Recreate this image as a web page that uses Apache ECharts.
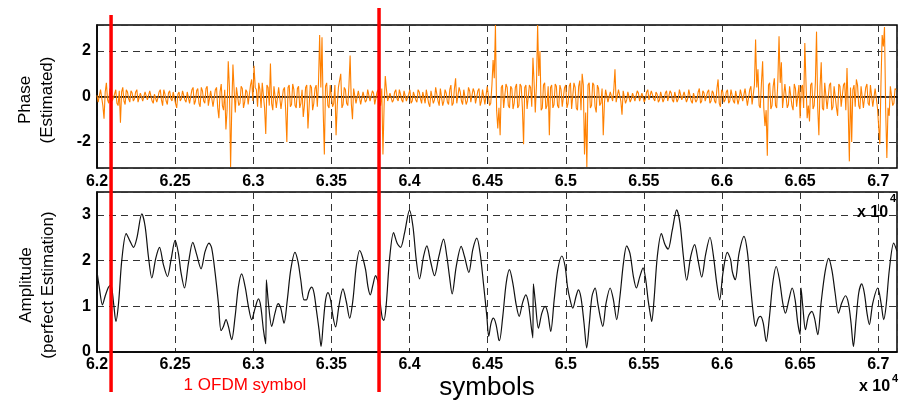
<!DOCTYPE html>
<html><head><meta charset="utf-8">
<script src="https://cdn.jsdelivr.net/npm/echarts@6/dist/echarts.min.js"></script>
<style>html,body{margin:0;padding:0;background:#fff}#c{width:904px;height:403px}</style>
</head><body><div id="c"></div>
<script>
// ---------------- DATA ----------------
const xMin = 62000, xMax = 67120, xInterval = 500;
const redLineX = [62090, 63805];

// Phase (estimated), sampled every phaseStep symbols starting at phaseStart
const phaseStart = 62000, phaseStep = 15;
const phaseVals = [
 0.05,-0.2,0.35,-0.98,0.6,-0.3,0.25,-0.15,0.3,-0.4,-1.15,0.4,-0.35,0.2,-0.25,0.15,-0.1,0.3,-0.2,0.1,
 -0.15,0.25,-0.1,0.2,-0.3,0.15,-0.05,0.3,-0.4,0.1,-0.35,0.25,-0.2,0.15,-0.5,0.2,-0.1,0.3,-0.25,0.15,
 -0.3,0.4,-0.2,0.35,-0.45,0.25,-0.3,0.45,-0.35,0.3,-0.5,0.4,-0.95,0.55,-0.6,-1.45,1.55,-3.1,1.4,-0.7,
 0.45,-0.3,0.35,-0.25,0.2,-0.4,0.75,1.35,0.3,0.6,-0.5,0.55,-1.65,0.4,1.45,-0.6,0.5,-0.45,0.35,-0.5,
 0.4,-2.0,0.5,-0.35,0.3,-0.5,0.45,-0.3,-0.9,0.4,-1.4,0.5,-0.6,0.35,-0.45,2.7,2.6,-2.55,0.6,-0.5,
 0.45,-0.3,-1.7,0.4,1.0,-0.35,0.3,-0.4,1.8,-1.0,0.3,-0.25,0.2,-0.3,0.25,-0.15,0.35,-0.2,0.15,-0.3,
 0.3,-0.4,-2.55,0.9,-0.2,0.15,-0.25,0.2,-0.1,0.3,-0.15,0.25,-0.2,0.1,-0.3,0.2,-0.15,0.3,-0.1,0.2,
 -0.3,0.25,-0.45,0.2,-0.15,0.35,-0.4,0.3,-0.2,0.15,-0.35,0.5,-0.3,0.8,-0.25,0.2,-0.35,0.3,-0.2,0.25,
 -0.3,0.2,-0.25,0.35,-0.2,0.3,-0.4,0.5,-0.3,1.6,3.14,-1.4,-1.7,0.5,-0.45,0.4,-0.5,0.35,-0.3,0.55,
 -0.4,0.45,-2.1,0.5,-0.6,0.4,1.7,-0.7,3.14,2.0,-0.5,0.6,-0.4,-1.7,0.5,-0.35,0.45,-0.5,0.3,-0.4,
 0.5,-0.3,0.6,-0.5,0.4,-0.6,0.7,1.0,-2.55,-3.1,0.6,-0.4,0.5,-0.7,0.35,-0.3,-1.7,0.3,-0.25,0.2,
 -0.2,1.2,-0.3,0.25,-0.8,0.2,-0.15,0.25,-0.1,0.2,-0.2,0.15,-0.25,0.2,-0.1,0.3,-0.15,0.2,-0.2,0.1,
 -0.15,0.2,-0.1,0.25,-0.2,0.15,-0.25,0.2,-0.1,0.3,-0.2,0.15,-0.1,0.25,-0.3,0.2,-0.15,0.35,-0.2,0.15,
 -0.25,0.3,-0.2,0.15,-0.3,0.75,-0.45,0.2,-0.15,0.3,-0.2,0.25,-0.3,0.2,-0.1,0.35,-0.25,0.3,-0.35,0.45,
 -0.4,2.5,1.2,-0.5,1.55,-1.3,-2.6,0.6,-0.4,0.8,-0.5,2.65,1.5,-0.45,0.5,-0.35,0.4,-0.6,0.35,-0.5,
 -0.95,0.5,2.35,-0.95,-1.1,0.6,-0.4,2.85,-1.7,1.5,-0.6,0.55,-0.5,0.6,-0.45,0.5,-0.85,0.45,-0.5,0.6,
 1.25,-2.85,-2.0,0.5,0.75,-0.4,0.45,-0.5,0.4,-0.3,0.5,-0.45,0.35,-0.5,-2.1,2.7,3.05,-2.7,-0.85,0.4,-0.3,0.3
];
// Phase values at the half-step positions (phaseStart + i*phaseStep + phaseStep/2)
const phaseMidVals = [
 -0.25,0.3,-0.4,0.2,-0.15,0.35,-0.2,0.1,-0.3,0.25,0.2,-0.2,0.3,-0.1,0.25,-0.2,0.2,-0.25,0.15,-0.2,
 0.2,-0.15,0.25,-0.2,0.1,-0.25,0.2,-0.15,0.3,-0.2,0.15,-0.1,0.2,-0.3,0.1,-0.2,0.25,-0.15,0.2,-0.3,
 0.3,-0.35,0.25,-0.3,0.4,-0.2,0.35,-0.4,0.25,-0.45,0.3,-0.5,0.2,-0.4,0.3,-0.6,0.4,-0.5,0.3,0.4,
 -0.4,0.45,-0.5,0.3,-0.35,0.5,-0.2,0.4,-0.45,0.3,0.6,-0.5,0.5,-0.4,-0.3,0.45,-0.5,0.4,-0.55,0.3,
 -0.6,0.4,-0.45,0.55,-0.4,0.35,-0.5,0.3,-0.4,0.5,-0.45,0.4,-0.3,0.5,0.6,0.4,-0.6,0.45,-0.4,0.5,
 -0.45,0.5,-0.4,0.35,-0.5,0.4,-0.3,0.5,-0.3,0.35,-0.3,0.25,-0.35,0.2,-0.25,0.3,-0.2,0.25,-0.35,0.2,
 -0.3,0.35,-0.4,0.3,-0.25,0.2,-0.15,0.3,-0.2,0.1,-0.25,0.2,-0.15,0.3,-0.2,0.15,-0.25,0.2,-0.3,0.15,
 0.3,-0.3,0.25,-0.3,0.4,-0.2,0.35,-0.4,0.3,-0.25,0.3,-0.4,0.35,-0.3,0.4,-0.2,0.3,-0.35,0.4,-0.25,
 0.35,-0.3,0.25,-0.4,0.3,-0.35,0.45,-0.4,0.5,0.8,-0.6,-0.5,0.4,-0.5,0.55,-0.4,0.45,-0.55,0.4,-0.5,
 0.55,-0.5,0.4,-0.55,0.5,-0.45,0.6,0.5,0.9,-0.6,0.5,-0.55,0.45,0.4,-0.5,0.55,-0.4,0.5,-0.45,0.4,
 -0.5,0.45,-0.55,0.6,-0.5,0.45,-0.6,0.5,-0.7,0.5,-0.5,0.6,-0.45,0.5,-0.4,0.35,-0.3,0.25,-0.3,0.25,
 0.3,-0.25,0.3,-0.2,0.25,-0.3,0.2,-0.25,0.15,-0.2,0.25,-0.2,0.15,-0.25,0.2,-0.15,0.25,-0.1,0.2,-0.25,
 0.2,-0.25,0.15,-0.2,0.25,-0.15,0.2,-0.25,0.3,-0.15,0.2,-0.25,0.3,-0.2,0.15,-0.25,0.2,-0.3,0.25,-0.2,
 0.2,-0.3,0.25,-0.2,0.35,-0.3,0.3,-0.25,0.2,-0.3,0.3,-0.2,0.25,-0.35,0.3,-0.2,0.35,-0.4,0.3,-0.35,
 0.5,0.4,-0.4,0.6,-0.5,-0.6,0.5,-0.55,0.45,-0.4,0.7,0.6,-0.5,0.55,-0.5,0.45,-0.4,0.55,-0.45,0.5,
 0.4,-0.5,0.6,-0.4,0.5,-0.55,0.6,-0.5,0.45,-0.5,0.6,-0.55,0.5,-0.6,0.45,-0.5,0.55,-0.45,0.5,-0.6,
 -0.5,0.4,0.3,-0.45,0.5,-0.55,0.4,-0.45,0.55,-0.4,0.45,-0.5,0.4,-0.5,0.6,2.2,-0.6,-0.5,0.45,-0.4,0.35
];

// Amplitude (perfect estimation)
const ampX = [
 62000,62014,62035,62052,62074,62089,62106,62121,62138,62159,62187,62212,62234,62255,62287,62308,62329,62351,62376,62400,62425,62451,62474,62500,62521,62538,62560,62585,62613,62638,62666,62692,62717,62734,62756,62777,62794,62809,62826,62841,
 62862,62884,62905,62926,62948,62969,62990,63012,63033,63048,63065,63080,63084,63097,63118,63139,63159,63176,63197,63218,63240,63267,63286,63304,63325,63340,63357,63374,63389,63404,63421,63434,63448,63463,63478,63495,63510,63527,63548,63574,63595,63617,63638,63659,63681,63698,
 63719,63734,63749,63766,63783,63798,63813,63826,63836,63851,63872,63898,63921,63943,63968,64000,64022,64043,64064,64090,64111,64135,64160,64188,64218,64239,64256,64273,64299,64331,64352,64380,64405,64431,64452,64473,64495,64507,64522,64537,64554,64571,
 64576,64597,64619,64640,64661,64683,64702,64723,64744,64761,64779,64789,64793,64806,64825,64847,64868,64885,64904,64926,64949,64975,64996,65011,65028,65045,65066,65081,65098,65117,65134,65151,65168,65188,65205,65220,65237,65258,65284,65305,65326,65347,65369,65390,65411,
 65433,65452,65474,65495,65512,65527,65540,65550,65565,65586,65612,65635,65655,65682,65710,65731,65753,65774,65800,65825,65846,65870,65895,65923,65944,65966,65985,66006,66034,66055,66066,66085,66109,66141,66162,66183,66200,66215,66232,66247,66264,
 66283,66304,66325,66347,66368,66389,66406,66428,66449,66468,66485,66500,66506,66517,66534,66553,66575,66592,66613,66634,66660,66683,66705,66724,66745,66766,66790,66809,66826,66841,66858,66875,66894,66911,66928,66943,66965,66997,67018,67035,67050,67071,67099,67120
];
const ampY = [
 1.76,1.43,1.03,1.22,1.42,1.47,1.07,0.67,1.07,2.02,2.59,2.42,2.29,2.49,3.02,2.75,2.09,1.62,2.05,2.29,1.91,1.65,2.02,2.44,2.16,1.73,1.40,1.94,2.40,2.13,1.82,2.20,2.38,2.27,1.73,1.07,0.47,0.56,0.71,0.56,
 0.27,0.78,1.43,1.71,1.43,1.00,0.71,0.96,1.16,1.00,0.49,0.18,1.58,1.07,0.56,0.85,1.06,0.96,0.63,1.14,1.80,2.18,1.98,1.58,1.14,1.14,1.33,1.42,1.29,0.92,0.49,0.12,0.63,1.14,1.30,1.14,0.78,0.55,1.00,1.38,1.11,0.74,1.14,1.87,2.22,2.09,
 1.80,1.43,1.25,1.47,1.67,1.54,1.07,0.74,0.69,1.03,2.02,2.61,2.38,2.29,2.60,3.10,2.75,2.02,1.60,2.09,2.32,1.98,1.67,2.09,2.47,2.09,1.65,1.27,1.87,2.31,2.09,1.74,2.24,2.49,2.16,1.51,0.78,0.34,0.63,0.74,0.60,0.27,
 0.25,0.78,1.51,1.80,1.51,1.03,0.78,1.07,1.25,1.07,0.56,0.31,1.49,1.07,0.52,0.85,1.00,0.85,0.45,1.14,1.80,2.10,1.87,1.43,1.14,0.96,1.22,1.36,1.18,0.63,0.09,0.63,1.22,1.40,1.07,0.78,0.56,1.07,1.40,1.14,0.71,1.22,1.94,2.32,2.16,
 1.65,1.40,1.65,1.84,1.58,1.14,0.85,0.67,1.14,2.09,2.59,2.35,2.25,2.67,3.11,2.82,2.09,1.57,2.09,2.35,2.02,1.64,2.13,2.51,2.13,1.51,1.14,1.73,2.18,2.02,1.76,1.58,2.16,2.53,2.20,1.43,0.85,0.56,0.74,0.78,0.63,
 0.23,0.78,1.51,1.87,1.58,1.07,0.85,1.14,1.40,1.14,0.63,0.38,1.40,1.00,0.49,0.78,0.89,0.74,0.38,1.07,1.76,2.05,1.76,1.29,0.85,1.07,1.23,1.07,0.63,0.12,0.71,1.29,1.49,1.29,0.85,0.60,1.07,1.40,1.07,0.71,1.00,1.80,2.38,2.20
];

const phaseTitle = 'Phase\n(Estimated)';
const ampTitle = 'Amplitude\n(perfect Estimation)';
const xTitle = 'symbols';
const symbolNote = '1 OFDM symbol';

// ---------------- CHART ----------------
const FONT = '"Liberation Sans", Arial, sans-serif';
const phaseData = [];
phaseVals.forEach((v, i) => {
  phaseData.push([phaseStart + i * phaseStep, v]);
  if (i < phaseMidVals.length) phaseData.push([phaseStart + i * phaseStep + phaseStep / 2, phaseMidVals[i]]);
});
const ampData = ampX.map((x, i) => [x, ampY[i]]);

const dash = {show: true, lineStyle: {type: [7, 5], color: '#333', width: 1}};
const tickLbl = {fontSize: 16, fontWeight: 'bold', color: '#000', fontFamily: FONT};
function xAxis(gi, margin) {
  return {type: 'value', gridIndex: gi, min: xMin, max: xMax, interval: xInterval,
    axisLine: {show: true, lineStyle: {color: '#000', width: 1.5}}, axisTick: {show: false},
    axisLabel: Object.assign({margin: margin, showMaxLabel: false,
      formatter: v => (v % xInterval === 0 ? String(+(v / 10000).toFixed(2)) : '')}, tickLbl),
    splitLine: dash};
}
function yAxis(gi, extra) {
  return Object.assign({type: 'value', gridIndex: gi,
    axisLine: {show: true, lineStyle: {color: '#000', width: 1.5}}, axisTick: {show: false},
    axisLabel: Object.assign({margin: 6, formatter: v => (Number.isInteger(v) ? String(v) : '')}, tickLbl),
    splitLine: dash}, extra);
}

const chart = echarts.init(document.getElementById('c'), null, {renderer: 'canvas'});
chart.setOption({
  animation: false,
  backgroundColor: '#fff',
  grid: [
    {left: 97, right: 7, top: 25, height: 143, show: true, borderColor: '#000', borderWidth: 1.5, backgroundColor: 'transparent'},
    {left: 97, right: 7, top: 192, height: 160, show: true, borderColor: '#000', borderWidth: 1.5, backgroundColor: 'transparent'}
  ],
  xAxis: [xAxis(0, 6), xAxis(1, 5)],
  yAxis: [
    yAxis(0, {min: -3.1416, max: 3.1416, splitNumber: 3}),
    yAxis(1, {min: 0, max: 3.5, interval: 1})
  ],
  series: [
    {type: 'line', xAxisIndex: 0, yAxisIndex: 0, data: phaseData, showSymbol: false, symbol: 'none',
      lineStyle: {color: '#ff8000', width: 1.1}, clip: true},
    {type: 'line', xAxisIndex: 1, yAxisIndex: 1, data: ampData, showSymbol: false, symbol: 'none',
      smooth: 0.3, lineStyle: {color: '#111', width: 1.2}, clip: true}
  ]
});

const g = [];
const tops = [15, 8];
redLineX.forEach((v, i) => {
  const px = chart.convertToPixel({xAxisIndex: 0}, v);
  g.push({type: 'line', z: 100, shape: {x1: px, y1: tops[i], x2: px, y2: 392},
    style: {stroke: '#ff0000', lineWidth: 3.5}});
});
g.push({type: 'text', x: 36, y: 100, rotation: Math.PI / 2, z: 100,
  style: {text: phaseTitle, align: 'center', verticalAlign: 'middle', font: '17px ' + FONT, lineHeight: 22, fill: '#000'}});
g.push({type: 'text', x: 37, y: 285, rotation: Math.PI / 2, z: 100,
  style: {text: ampTitle, align: 'center', verticalAlign: 'middle', font: '17px ' + FONT, lineHeight: 22, fill: '#000'}});
g.push({type: 'text', x: 245, y: 385, z: 100,
  style: {text: symbolNote, align: 'center', verticalAlign: 'middle', font: '17px ' + FONT, fill: '#ff0000'}});
g.push({type: 'text', x: 487, y: 388, z: 100,
  style: {text: xTitle, align: 'center', verticalAlign: 'middle', font: '26px ' + FONT, fill: '#000'}});
[[857, 213, 890, 199], [859, 387, 892, 379]].forEach(p => {
  g.push({type: 'text', x: p[0], y: p[1], z: 100,
    style: {text: 'x 10', align: 'left', verticalAlign: 'middle', font: 'bold 16px ' + FONT, fill: '#000'}});
  g.push({type: 'text', x: p[2], y: p[3], z: 100,
    style: {text: '4', align: 'left', verticalAlign: 'middle', font: 'bold 11px ' + FONT, fill: '#000'}});
});
chart.setOption({graphic: g});
</script></body></html>
